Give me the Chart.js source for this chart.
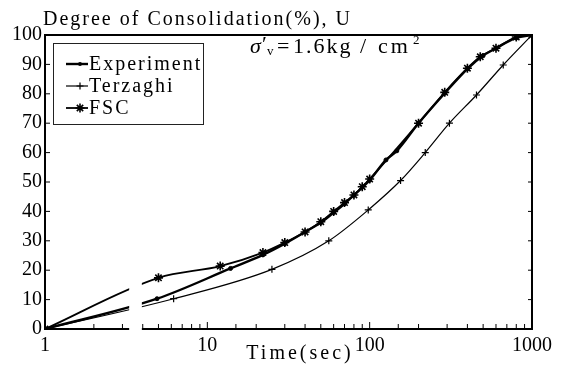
<!DOCTYPE html>
<html><head><meta charset="utf-8">
<script src="https://cdn.jsdelivr.net/npm/chart.js@4"></script>
<style>html,body{margin:0;padding:0;background:#fff}</style>
</head><body>
<canvas id="c" width="563" height="378"></canvas>
<script>
// ---- data ----
const expTime = [1, 4.9, 13.9, 22, 30, 40, 50, 60, 70, 80, 100, 126, 147, 200, 290, 400, 500, 600, 800, 1000];
const expU    = [0, 10.3, 20.6, 25.2, 29, 33, 36.2, 39.6, 42.6, 45.5, 50.6, 57.5, 60.6, 70, 80.2, 88.5, 93, 95.5, 99, 100];

const terTime = [1, 6.2, 25, 56, 98, 155, 220, 310, 455, 665, 1000];
const terU    = [0, 10.3, 20.3, 30, 40.5, 50.5, 60, 70, 79.6, 89.8, 100];

const fscTime = [1, 5, 12, 22, 30, 40, 50, 60, 70, 80, 90, 100, 200, 290, 400, 480, 600, 800, 1000];
const fscU    = [0, 17.4, 21.4, 26, 29.4, 33, 36.5, 40, 43, 45.6, 48.4, 51, 70, 80.5, 88.7, 92.6, 95.5, 99.3, 100];

const xTickLabels = [1, 10, 100, 1000];
const yTicks = [0, 10, 20, 30, 40, 50, 60, 70, 80, 90, 100];

const seriesNames = ['Experiment', 'Terzaghi', 'FSC'];
const titleText = 'Degree of Consolidation(%), U';
const xTitleText = 'Time(sec)';

const pts = (t, u) => t.map((v, i) => ({x: v, y: u[i]}));
const SERIF = '"Liberation Serif", "Times New Roman", serif';

function drawMarker(ctx, style, x, y, r, lw) {
  ctx.save();
  ctx.lineWidth = lw; ctx.strokeStyle = '#000'; ctx.fillStyle = '#000';
  ctx.beginPath();
  if (style === 'circle') { ctx.arc(x, y, r, 0, Math.PI * 2); ctx.fill(); }
  else if (style === 'cross') { ctx.moveTo(x - r, y); ctx.lineTo(x + r, y); ctx.moveTo(x, y - r); ctx.lineTo(x, y + r); ctx.stroke(); }
  else if (style === 'star') {
    for (let k = 0; k < 4; k++) { const a = k * Math.PI / 4; ctx.moveTo(x - r * Math.cos(a), y - r * Math.sin(a)); ctx.lineTo(x + r * Math.cos(a), y + r * Math.sin(a)); }
    ctx.stroke();
  }
  ctx.restore();
}

const decor = {
  id: 'decor',
  afterDatasetsDraw(chart) {
    const ctx = chart.ctx, a = chart.chartArea;
    const xs = chart.scales.x, ys = chart.scales.y;
    ctx.save();
    // frame
    ctx.strokeStyle = '#000'; ctx.lineWidth = 2;
    ctx.strokeRect(a.left, a.top, a.right - a.left, a.bottom - a.top);
    // inward ticks
    ctx.lineWidth = 1;
    ctx.beginPath();
    xs.ticks.forEach(t => {
      const px = xs.getPixelForValue(t.value);
      const major = xTickLabels.includes(t.value);
      ctx.moveTo(px, a.bottom); ctx.lineTo(px, a.bottom - (major ? 7 : 5));
    });
    ys.ticks.forEach(t => {
      const py = ys.getPixelForValue(t.value);
      ctx.moveTo(a.left, py); ctx.lineTo(a.left + 5, py);
      ctx.moveTo(a.right, py); ctx.lineTo(a.right - 4, py);
    });
    ctx.stroke();
    // break in the drawing near t = 3.5 (as in the reference)
    const g0 = xs.getPixelForValue(3.3), g1 = xs.getPixelForValue(3.95);
    ctx.fillStyle = '#fff';
    ctx.fillRect(g0, ys.getPixelForValue(17), g1 - g0, a.bottom + 3 - ys.getPixelForValue(17));

    // texts
    ctx.fillStyle = '#000';
    ctx.textBaseline = 'alphabetic';
    ctx.textAlign = 'left';
    ctx.font = '20px ' + SERIF;
    ctx.letterSpacing = '2px';
    ctx.fillText(titleText, 43, 25);
    ctx.letterSpacing = '3px';
    ctx.textAlign = 'center';
    ctx.fillText(xTitleText, 300, 359);
    ctx.textAlign = 'left';

    // legend box
    ctx.lineWidth = 1; ctx.strokeStyle = '#222';
    ctx.strokeRect(53.5, 43.5, 150, 81);
    const ds = chart.data.datasets;
    const rowsY = [64, 86, 108];
    ds.forEach((d, i) => {
      const y = rowsY[i];
      ctx.strokeStyle = '#000'; ctx.lineWidth = d.borderWidth;
      ctx.beginPath(); ctx.moveTo(66, y); ctx.lineTo(88, y); ctx.stroke();
      drawMarker(ctx, d.pointStyle, 80, y, d.pointRadius, d.pointBorderWidth);
      ctx.letterSpacing = '2px';
      ctx.font = '20px ' + SERIF;
      ctx.textBaseline = 'middle';
      ctx.fillText(d.label, 89, y + 1);
    });

    // annotation sigma'_v = 1.6kg / cm^2
    ctx.textBaseline = 'alphabetic';
    const by = 53;
    ctx.letterSpacing = '0px';
    ctx.font = 'italic 22px ' + SERIF;
    ctx.fillText('σ', 250, by);
    ctx.font = '22px ' + SERIF;
    ctx.fillText('′', 262, by - 2);
    ctx.font = '13px ' + SERIF;
    ctx.fillText('v', 267, by + 2);
    ctx.font = '22px ' + SERIF;
    ctx.fillText('=', 277, by);
    ctx.letterSpacing = '2px';
    ctx.fillText('1.6kg', 293, by);
    ctx.letterSpacing = '0px';
    ctx.fillText('/', 360, by);
    ctx.letterSpacing = '3px';
    ctx.fillText('cm', 378, by);
    ctx.letterSpacing = '0px';
    ctx.font = '13px ' + SERIF;
    ctx.fillText('2', 413, by - 9);
    ctx.restore();
  }
};

new Chart(document.getElementById('c'), {
  type: 'line',
  data: {
    datasets: [
      { label: seriesNames[0], data: pts(expTime, expU), borderColor: '#000', backgroundColor: '#000',
        borderWidth: 2.4, pointStyle: 'circle', pointRadius: 2, pointBorderWidth: 1, cubicInterpolationMode: 'monotone' },
      { label: seriesNames[1], data: pts(terTime, terU), borderColor: '#000', backgroundColor: '#000',
        borderWidth: 1.2, pointStyle: 'cross', pointRadius: 3.5, pointBorderWidth: 1.2, cubicInterpolationMode: 'monotone' },
      { label: seriesNames[2], data: pts(fscTime, fscU), borderColor: '#000', backgroundColor: '#000',
        borderWidth: 1.8, pointStyle: 'star', pointRadius: 4.5, pointBorderWidth: 1.6, cubicInterpolationMode: 'monotone' }
    ]
  },
  options: {
    responsive: false, animation: false, devicePixelRatio: 1,
    layout: { padding: { top: 35, right: 31, left: 0, bottom: 0 } },
    plugins: { legend: { display: false }, tooltip: { enabled: false }, title: { display: false } },
    scales: {
      x: {
        type: 'logarithmic', min: 1, max: 1000,
        grid: { display: false, drawTicks: false }, border: { display: false },
        ticks: { autoSkip: false, maxRotation: 0, padding: 5, color: '#000', font: { family: SERIF, size: 20 },
          callback: v => xTickLabels.includes(v) ? String(v) : '' },
        afterFit: s => { s.height = 49; }
      },
      y: {
        min: 0, max: 100,
        afterBuildTicks: s => { s.ticks = yTicks.map(v => ({value: v})); },
        grid: { display: false, drawTicks: false }, border: { display: false },
        ticks: { padding: 3, color: '#000', font: { family: SERIF, size: 20 } },
        afterFit: s => { s.width = 45; }
      }
    }
  },
  plugins: [decor]
});
</script>
</body></html>
